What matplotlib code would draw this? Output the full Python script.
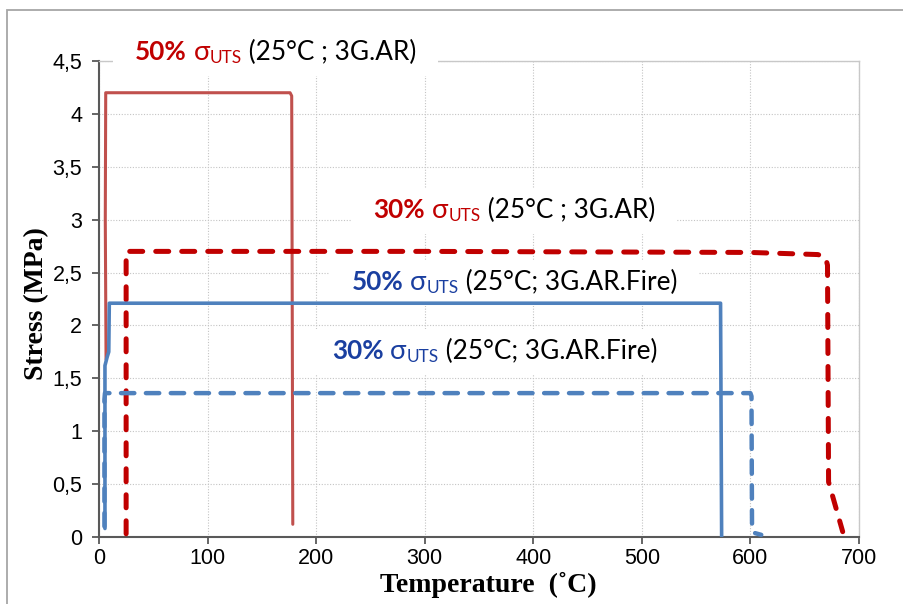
"""Stress vs temperature for 3G.AR specimens under constant load (fire tests)."""

import matplotlib
matplotlib.use("Agg")
import matplotlib.pyplot as plt
import matplotlib.transforms as mtransforms
from matplotlib.patches import Rectangle
from matplotlib.transforms import Bbox
from matplotlib.ticker import FuncFormatter, MultipleLocator

# --- data ------------------------------------------------------------------
# 50% sigma_UTS (25°C ; 3G.AR) -- red solid
temp_50_ar = [6.5, 5.8, 6.2, 176.0, 177.5, 178.5]
stress_50_ar = [1.68, 3.0, 4.2, 4.2, 4.17, 0.12]

# 30% sigma_UTS (25°C ; 3G.AR) -- red dashed
temp_30_ar = [25, 25, 300, 600, 662, 669, 671, 672, 685]
stress_30_ar = [0.03, 2.70, 2.70, 2.69, 2.67, 2.65, 2.57, 0.52, 0.05]

# 50% sigma_UTS (25°C; 3G.AR.Fire) -- blue solid
temp_50_fire = [5.5, 5.5, 7.5, 9.0, 9.5, 572.5, 573.5]
stress_50_fire = [0.08, 1.62, 1.70, 1.75, 2.21, 2.21, 0.0]

# 30% sigma_UTS (25°C; 3G.AR.Fire) -- blue dashed
temp_30_fire = [5, 5, 5.5, 300, 600, 601, 601.5, 603, 610]
stress_30_fire = [0.10, 1.30, 1.36, 1.36, 1.36, 1.33, 0.05, 0.04, 0.02]

label_pcts = ["50%", "30%", "50%", "30%"]
label_tails = ["(25°C ; 3G.AR)", "(25°C ; 3G.AR)",
               "(25°C; 3G.AR.Fire)", "(25°C; 3G.AR.Fire)"]

# --- style --------------------------------------------------------------------
RED_SOLID = "#c0504d"
RED_DASH = "#c00000"
BLUE = "#4f81bd"
TXT_RED = "#c00000"
TXT_BLUE = "#1a3fa0"
LABEL_FONT = ["Lato", "Open Sans", "DejaVu Sans"]
LABEL_SIZE = 18.8

# left edge (°C) and baseline (MPa) of each annotation
label_pos = [(33, 4.51), (253, 3.015), (232.5, 2.335), (214.5, 1.685)]
label_colors = [TXT_RED, TXT_RED, TXT_BLUE, TXT_BLUE]


def rich_label(ax, x, y, pct, color, tail, size):
    """σ_UTS label: coloured bold percentage, subscript, black tail, white box."""
    fig = ax.figure
    r = fig.canvas.get_renderer()
    parts = [
        (pct, dict(color=color, weight="bold", size=size), 0),
        (" σ", dict(color=color, size=size * 1.05), 0),
        ("UTS", dict(color=color, size=size * 0.66), -size * 0.12),
        (" " + tail, dict(color="black", size=size), 0),
    ]
    dx = 0.0
    texts = []
    for s, kw, dy in parts:
        tr = mtransforms.offset_copy(ax.transData, fig=fig, x=dx, y=dy, units="points")
        t = ax.text(x, y, s, transform=tr, ha="left", va="baseline",
                    family=LABEL_FONT, zorder=6, clip_on=False, **kw)
        dx += t.get_window_extent(r).width * 72 / fig.dpi
        texts.append(t)
    bb = Bbox.union([t.get_window_extent(r) for t in texts])
    padx, pady = 22, 10
    inv = fig.transFigure.inverted()
    (x0, y0), (x1, y1) = inv.transform([(bb.x0 - padx, bb.y0 - pady),
                                        (bb.x1 + padx, bb.y1 + pady)])
    box = Rectangle((x0, y0), x1 - x0, y1 - y0, transform=fig.transFigure,
                    facecolor="white", edgecolor="none", zorder=2.7)
    ax.add_artist(box)
    box.set_clip_on(False)


fig = plt.figure(figsize=(9.04, 6.04), dpi=100)
fig.patch.set_facecolor("white")
ax = fig.add_axes([0.1095, 0.111, 0.8407, 0.788])

ax.plot(temp_50_ar, stress_50_ar, color=RED_SOLID, lw=2.2, zorder=4,
        solid_joinstyle="round", solid_capstyle="round")
ax.plot(temp_30_ar, stress_30_ar, color=RED_DASH, lw=3.6, zorder=4,
        dashes=(2.6, 2.6), dash_capstyle="round", dash_joinstyle="round")
ax.plot(temp_50_fire, stress_50_fire, color=BLUE, lw=2.6, zorder=4,
        solid_joinstyle="round", solid_capstyle="round")
ax.plot(temp_30_fire, stress_30_fire, color=BLUE, lw=3.2, zorder=4,
        dashes=(3.0, 2.6), dash_capstyle="round", dash_joinstyle="round")

ax.set_xlim(0, 700)
ax.set_ylim(0, 4.5)
ax.xaxis.set_major_locator(MultipleLocator(100))
ax.yaxis.set_major_locator(MultipleLocator(0.5))
ax.yaxis.set_major_formatter(FuncFormatter(lambda v, _: f"{v:g}".replace(".", ",")))
ax.xaxis.set_major_formatter(FuncFormatter(lambda v, _: f"{v:g}"))
ax.tick_params(direction="out", length=5, width=1.3, color="#595959",
               labelsize=15.5, labelcolor="black")
ax.tick_params(axis="x", pad=3)
ax.tick_params(axis="y", pad=7)
for lab in ax.get_xticklabels() + ax.get_yticklabels():
    lab.set_family("Liberation Sans")

ax.grid(True, color="#c4c4c4", lw=0.8, linestyle=(0, (1, 1.5)))
ax.set_axisbelow(True)
for side in ("left", "bottom"):
    ax.spines[side].set_color("#595959")
    ax.spines[side].set_linewidth(1.5)
for side in ("top", "right"):
    ax.spines[side].set_color("#c8c8c8")
    ax.spines[side].set_linewidth(1.0)

ax.set_xlabel("Temperature  (˚C)", family="Liberation Serif", weight="bold",
              fontsize=20)
ax.xaxis.set_label_coords(0.5 * (378 + 598) / 760 - 99 / 760, -0.074)
ax.set_ylabel("Stress (MPa)", family="Liberation Serif", weight="bold",
              fontsize=20)
ax.yaxis.set_label_coords(-0.065, 0.49)

for (lx, ly), pct, tail, col in zip(label_pos, label_pcts, label_tails, label_colors):
    rich_label(ax, lx, ly, pct, col, tail, LABEL_SIZE)

# outer frame of the original figure, cut off at right and bottom
frame = Rectangle((7 / 904, -0.1), 1.2, 1.1 - 10 / 604, transform=fig.transFigure,
                  fill=False, edgecolor="#a6a6a6", lw=1.3)
fig.add_artist(frame)

fig.savefig("out.png", dpi=100, facecolor="white")
